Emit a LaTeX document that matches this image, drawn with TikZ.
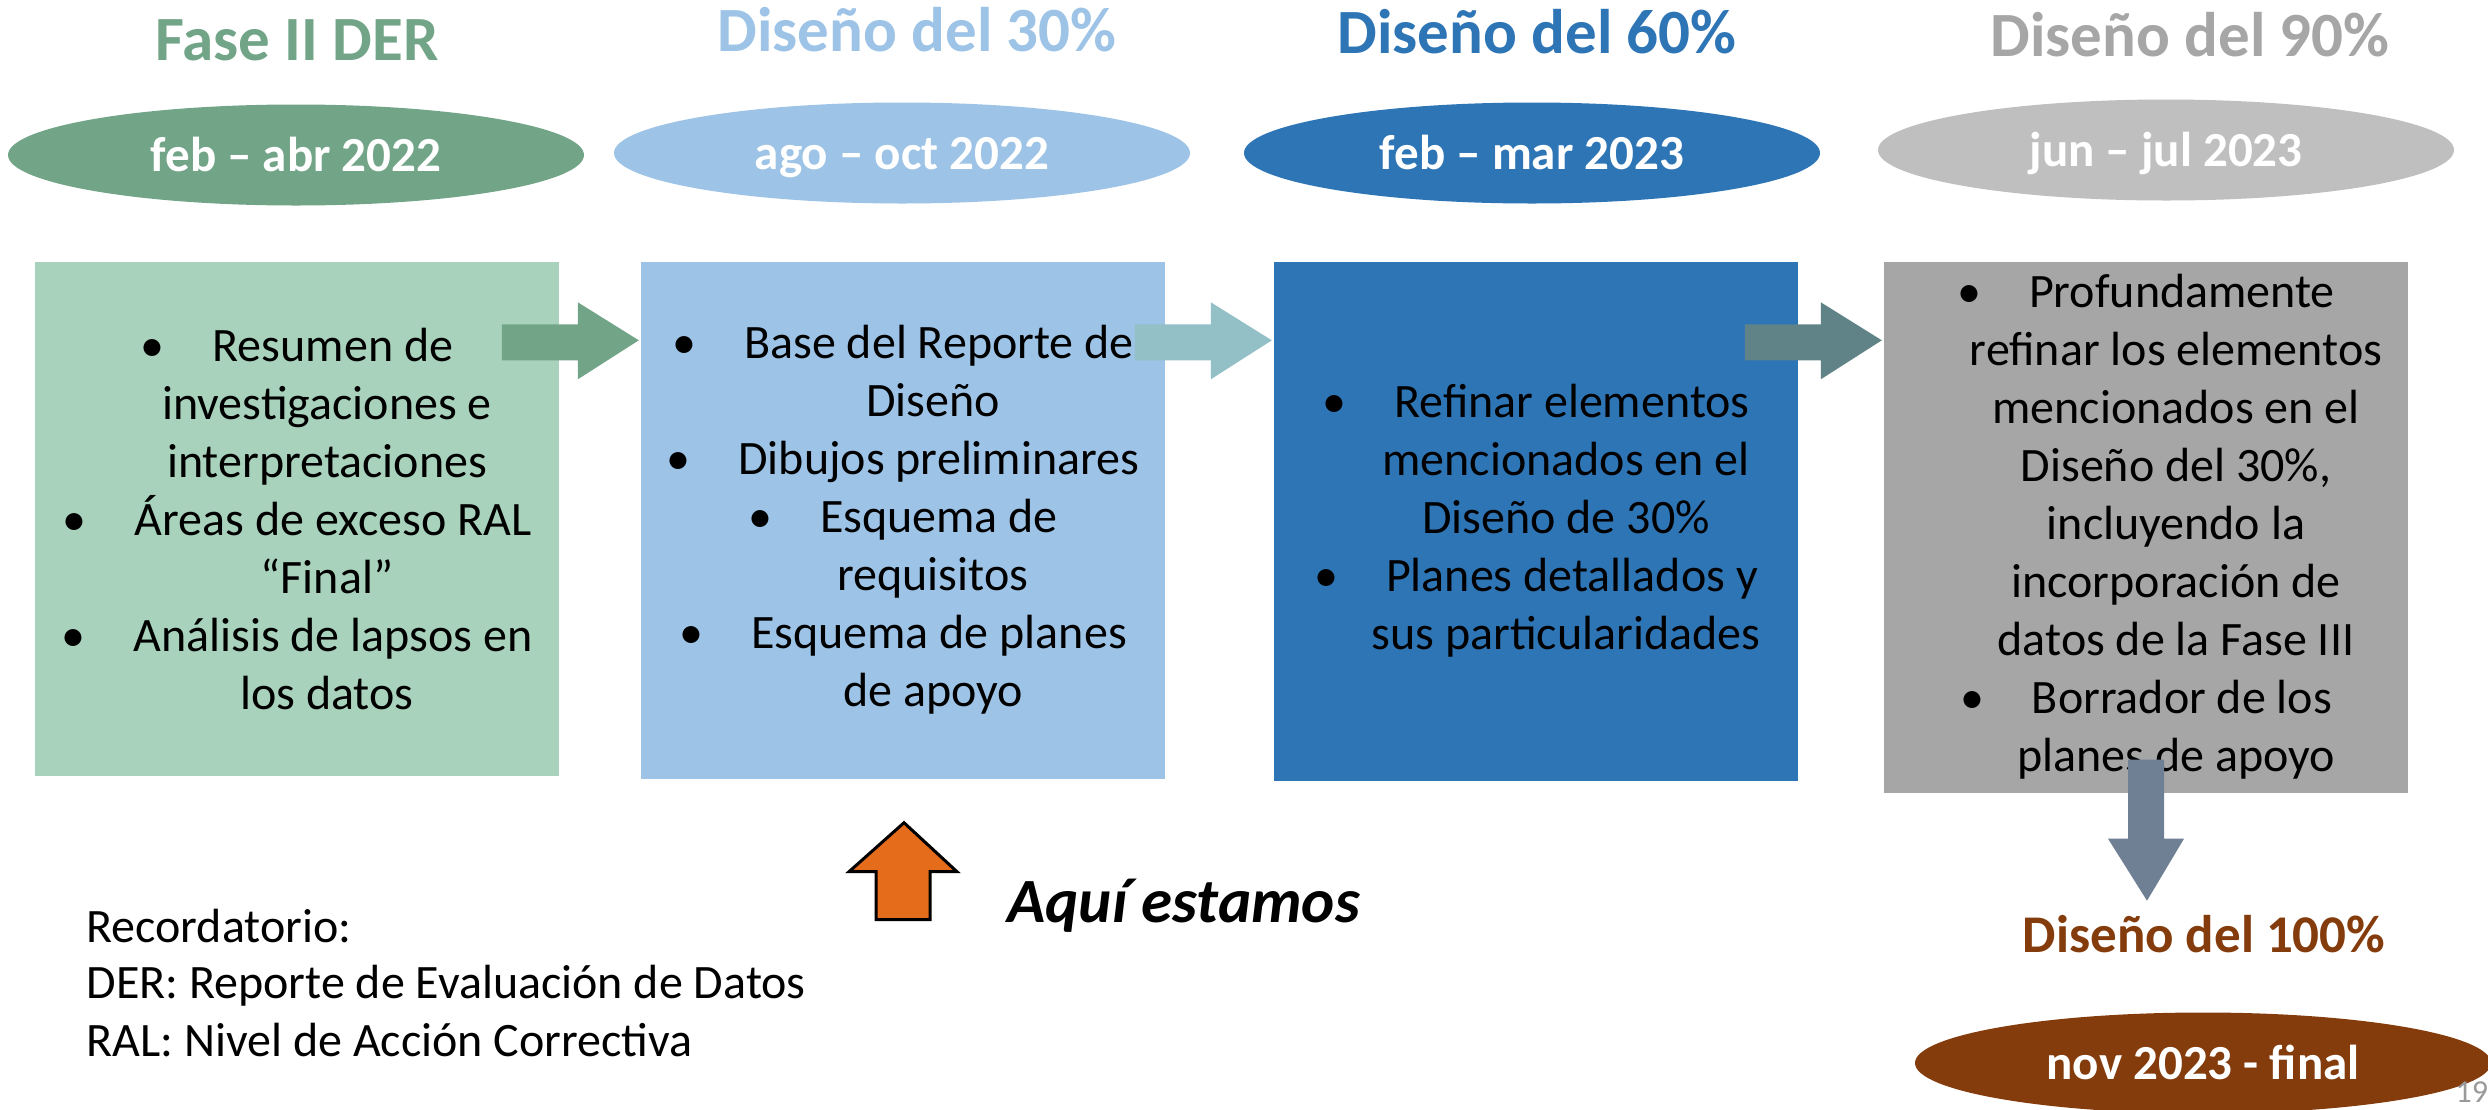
\documentclass[tikz,border=0pt]{standalone}
\usepackage{fontspec}
\setmainfont{Carlito}
\usepackage{tikz}
\usetikzlibrary{shapes.geometric}

\definecolor{fgreen}{RGB}{114,164,136}
\definecolor{fgreenlt}{RGB}{168,210,188}
\definecolor{dlight}{RGB}{157,195,230}
\definecolor{dmid}{RGB}{46,117,182}
\definecolor{dgray}{RGB}{166,166,166}
\definecolor{dgraylt}{RGB}{191,191,191}
\definecolor{dbrown}{RGB}{132,60,12}
\definecolor{tealA}{RGB}{147,191,198}
\definecolor{tealB}{RGB}{96,131,135}
\definecolor{slate}{RGB}{111,128,149}
\definecolor{aqui}{RGB}{228,108,27}

\newcommand{\itm}{\textbullet\hspace{48pt}}
\newcommand{\cont}{\hspace*{60pt}}
% block arrow ending just before the next box
\newcommand{\nextarrow}[2]{%
  \fill[#2,shift={(#1.north west)}] (-139,63) -- (-63,63) -- (-63,41) -- (-2,79)
    -- (-63,118) -- (-63,99) -- (-139,99) -- cycle;}

\tikzset{
  phase/.style={font=\fontsize{63}{70}\selectfont\bfseries, anchor=base},
  dates/.style={ellipse, minimum width=576pt, minimum height=101pt, inner sep=0pt,
    text=white, font=\fontsize{49}{54}\selectfont\bfseries, text height=32pt, text depth=0pt},
  stage/.style={minimum width=524pt, inner sep=0pt, align=center,
    font=\fontsize{48}{58}\selectfont},
  note/.style={font=\fontsize{48}{57}\selectfont, anchor=base west},
}

\begin{document}
\begin{tikzpicture}[x=1pt,y=-1pt]
  \useasboundingbox (0,0) rectangle (2488,1109);

  % titles
  \node[phase, text=fgreen] (t1) at (297,60) {Fase II DER};
  \node[phase, text=dlight] (t2) at (917,51) {Diseño del 30\%};
  \node[phase, text=dmid]   (t3) at (1537,53) {Diseño del 60\%};
  \node[phase, text=dgray]  (t4) at (2190,56) {Diseño del 90\%};

  % dates
  \node[dates, fill=fgreen]  (e1) at (296,155) {feb – abr 2022};
  \node[dates, fill=dlight]  (e2) at (902,153) {ago – oct 2022};
  \node[dates, fill=dmid]    (e3) at (1532,153) {feb – mar 2023};
  \node[dates, fill=dgraylt] (e4) at (2166,150) {jun – jul 2023};

  % stages
  \node[stage, fill=fgreenlt, minimum height=514pt] (b1) at (297,519)
    {\itm Resumen de\\ \cont investigaciones e\\ \cont interpretaciones\\
     \itm Áreas de exceso RAL\\ \cont “Final”\\
     \itm Análisis de lapsos en\\ \cont los datos};
  \node[stage, fill=dlight, minimum height=517pt] (b2) at (903,520)
    {\itm Base del Reporte de\\ \cont Diseño\\ \itm Dibujos preliminares\\
     \itm Esquema de\\ \cont requisitos\\ \itm Esquema de planes\\ \cont de apoyo};
  \node[stage, fill=dmid, minimum height=519pt] (b3) at (1536,521)
    {\itm Refinar elementos\\ \cont mencionados en el\\ \cont Diseño de 30\%\\
     \itm Planes detallados y\\ \cont sus particularidades};
  \node[stage, fill=dgray, minimum height=531pt] (b4) at (2146,527)
    {\itm Profundamente\\ \cont refinar los elementos\\ \cont mencionados en el\\
     \cont Diseño del 30\%,\\ \cont incluyendo la\\ \cont incorporación de\\
     \cont datos de la Fase III\\ \itm Borrador de los\\ \cont planes de apoyo};

  \nextarrow{b2}{fgreen}
  \nextarrow{b3}{tealA}
  \nextarrow{b4}{tealB}

  % down to final
  \fill[slate, shift={(b4.south)}] (-18,-33) -- (18,-33) -- (18,46) -- (38,46)
    -- (1,108) -- (-38,46) -- (-18,46) -- cycle;
  \node[font=\fontsize{53}{60}\selectfont\bfseries, text=dbrown, anchor=base] (t5)
    at (2204,952) {Diseño del 100\%};
  \node[dates, fill=dbrown] (e5) at (2203,1063) {nov 2023 - final};

  % where we are
  \draw[fill=aqui, line width=3pt, line join=miter, shift={(b2.south)}]
    (1,44) -- (54,93) -- (27,93) -- (27,141) -- (-27,141) -- (-27,93) -- (-54,93) -- cycle;
  \node[font=\fontsize{63}{70}\selectfont\bfseries\itshape, anchor=base west] (aq)
    at (1004,922) {Aquí estamos};

  \node[note] (r1) at (83,942) {Recordatorio:};
  \node[note] (r2) at (83,998) {DER: Reporte de Evaluación de Datos};
  \node[note] (r3) at (83,1056) {RAL: Nivel de Acción Correctiva};

  \node[font=\fontsize{32}{36}\selectfont, text=gray!80, anchor=base west] (pg)
    at (2452,1102) {19};
\end{tikzpicture}
\end{document}
